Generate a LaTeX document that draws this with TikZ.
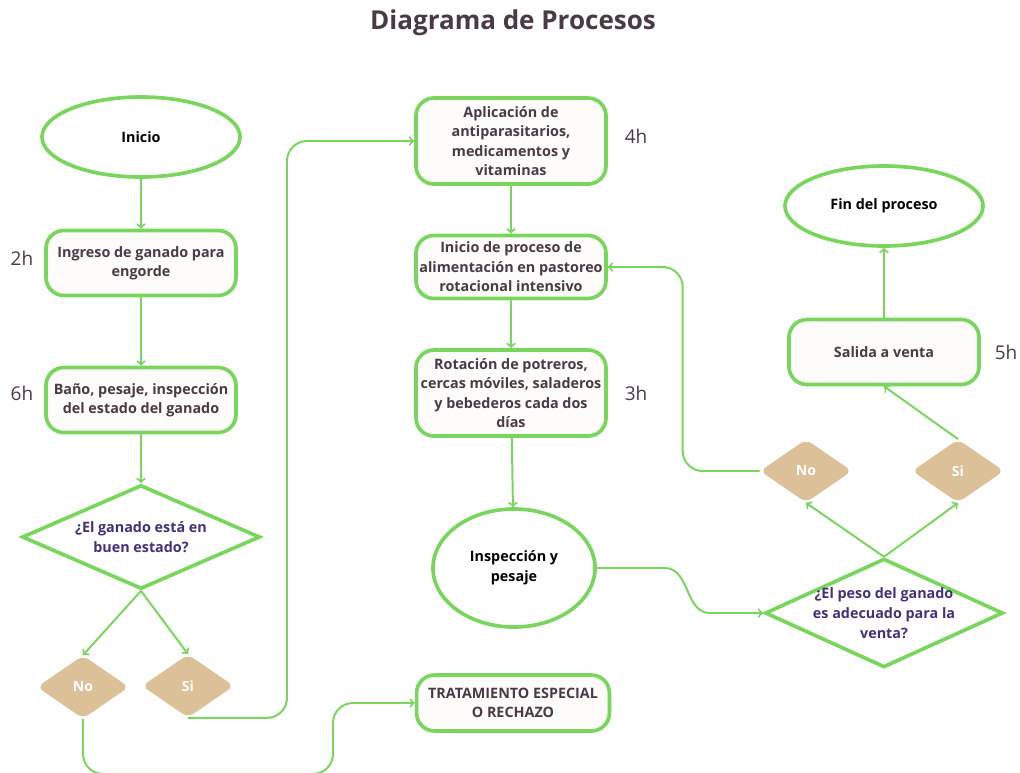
\documentclass[tikz,border=0pt]{standalone}
\usepackage{fontspec}
\setmainfont{Open Sans}
\usetikzlibrary{shapes.geometric}

\definecolor{verde}{HTML}{78D65C}
\definecolor{arena}{HTML}{DBC098}
\definecolor{texto}{HTML}{4A3A44}
\definecolor{morado}{HTML}{44307A}
\definecolor{fondo}{HTML}{FDFCFA}

\begin{document}
\begin{tikzpicture}[x=0.025cm,y=-0.025cm,
  caja/.style={draw=verde, line width=2.6pt, rounded corners=0.45cm, fill=fondo, minimum width=4.75cm, minimum height=1.625cm, align=center, text=texto, font=\bfseries\fontsize{10.2}{13.8}\selectfont, inner sep=1pt},
  elipse/.style={ellipse, draw=verde, line width=2.6pt, fill=white, minimum width=4.95cm, minimum height=2cm, align=center, inner sep=0pt, font=\bfseries\fontsize{10.2}{14.5}\selectfont},
  pregunta/.style={diamond, draw=verde, line width=2.6pt, fill=white, minimum width=5.95cm, minimum height=2.6cm, inner sep=0pt},
  pregtxt/.style={align=center, text=morado, font=\bfseries\fontsize{10.2}{14}\selectfont},
  opcion/.style={diamond, fill=arena, rounded corners=5pt, minimum width=2.3cm, minimum height=1.58cm, inner sep=0pt, text=white, font=\bfseries\fontsize{10}{11}\selectfont},
  horas/.style={text=texto, font=\fontsize{13.5}{16}\selectfont},
  flecha/.style={draw=verde, line width=1.4pt, ->, rounded corners=0.5cm}]
\useasboundingbox (0,0) rectangle (1020,772);

\node[text=texto, font=\bfseries\fontsize{18.5}{22}\selectfont] (titulo) at (513,23) {Diagrama de Procesos};

% columna izquierda
\node[elipse] (inicio) at (141,137) {Inicio};
\node[caja] (ingreso) at (141,263) {Ingreso de ganado para\\engorde};
\node[caja] (bano) at (141,400) {Baño, pesaje, inspección\\del estado del ganado};
\node[pregunta] (q1) at (141,537) {};
\node[pregtxt] (q1t) at (q1) {¿El ganado está en\\buen estado?};
\node[opcion] (no1) at (83,687) {No};
\node[opcion] (si1) at (188,686) {Si};

% columna central
\node[caja, minimum height=2.15cm] (apl) at (511,141) {Aplicación de\\antiparasitarios,\\medicamentos y\\vitaminas};
\node[caja, minimum height=1.575cm] (alim) at (511,267) {Inicio de proceso de\\alimentación en pastoreo\\rotacional intensivo};
\node[caja, minimum height=2.15cm] (rot) at (511,393) {Rotación de potreros,\\cercas móviles, saladeros\\y bebederos cada dos\\días};
\node[elipse, minimum width=4.05cm, minimum height=2.95cm] (insp) at (514,568) {Inspección y\\pesaje};
\node[caja, minimum width=4.82cm, minimum height=1.4cm] (trat) at (513,703) {TRATAMIENTO ESPECIAL\\O RECHAZO};

% columna derecha
\node[elipse] (fin) at (884,206) {Fin del proceso};
\node[caja] (salida) at (884,352) {Salida a venta};
\node[opcion] (no2) at (806,471) {No};
\node[opcion] (si2) at (958,471) {Si};
\node[pregunta, minimum height=2.72cm] (q2) at (884,613) {};
\node[pregtxt] (q2t) at (q2) {¿El peso del ganado\\es adecuado para la\\venta?};

% tiempos
\node[horas] (h2) at (22,258) {2h};
\node[horas] (h6) at (22,393) {6h};
\node[horas] (h4) at (636,136) {4h};
\node[horas] (h3) at (636,393) {3h};
\node[horas] (h5) at (1006,352) {5h};

% conectores
\draw[flecha] (inicio) -- (ingreso);
\draw[flecha] (ingreso) -- (bano);
\draw[flecha] (bano) -- (q1);
\draw[flecha] (q1.south) -- (no1.north);
\draw[flecha] (q1.south) -- (si1.north);
\draw[flecha] (si1.south) -- ++(99,0) |- (apl.west);
\draw[flecha] (no1.south) |- ++(250,55) |- (trat.west);
\draw[flecha] (apl) -- (alim);
\draw[flecha] (alim) -- (rot);
\draw[flecha] (rot) -- (insp);
\draw[flecha, rounded corners=0pt] (insp.east) -- ++(68,0) to[out=0,in=180] ++(45,45) -- (q2.west);
\draw[flecha] (q2.north) -- (no2.south);
\draw[flecha] (q2.north) -- (si2.south);
\draw[flecha] (no2.west) -- ++(-77,0) |- (alim.east);
\draw[flecha] (si2.north) -- (salida.south);
\draw[flecha] (salida) -- (fin);
\end{tikzpicture}
\end{document}
